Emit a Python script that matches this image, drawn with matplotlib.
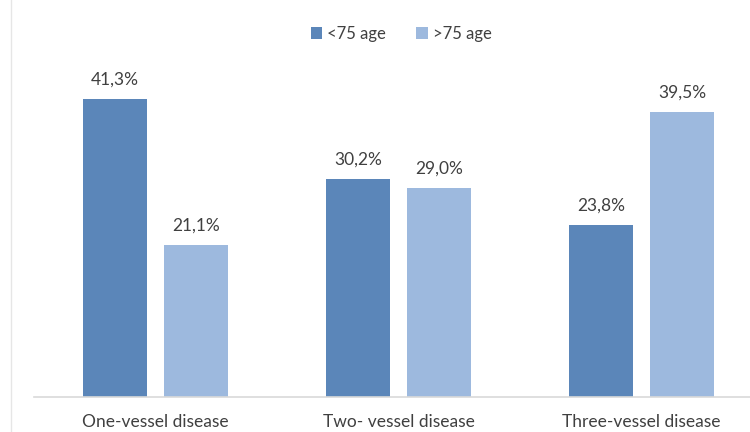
import matplotlib
matplotlib.use("Agg")
import matplotlib.pyplot as plt
from matplotlib.lines import Line2D
import numpy as np

categories = ["One-vessel disease", "Two- vessel disease", "Three-vessel disease"]
series_names = ["<75 age", ">75 age"]
under75 = [41.3, 30.2, 23.8]
over75 = [21.1, 29.0, 39.5]
colors = ["#5b86b9", "#9db9de"]

plt.rcParams['font.family'] = ['Lato', 'DejaVu Sans']
txt = "#404040"
fs = 12.5

fig = plt.figure(figsize=(7.5, 4.32), dpi=100)
ax = fig.add_axes([34/750, 35/432, 729/750, 330/432])
x = np.arange(len(categories))
w = 0.263
off = 0.1667
b1 = ax.bar(x - off, under75, w, color=colors[0], label=series_names[0])
b2 = ax.bar(x + off, over75, w, color=colors[1], label=series_names[1])
for bars, vals in ((b1, under75), (b2, over75)):
    for r, v in zip(bars, vals):
        ax.annotate(f"{v:.1f}%".replace(".", ","), (r.get_x() + r.get_width()/2, v),
                    xytext=(0, 8), textcoords="offset points", ha="center", va="bottom",
                    fontsize=fs, color=txt)
ax.set_xlim(-0.5, 2.5)
ax.set_ylim(0, 45.7)
ax.set_yticks([])
ax.set_xticks(x)
ax.set_xticklabels(categories, fontsize=fs, color=txt)
ax.tick_params(axis="x", length=0, pad=12)
for s in ("top", "right", "left"):
    ax.spines[s].set_visible(False)
ax.spines["bottom"].set_color("#d9d9d9")
ax.spines["bottom"].set_linewidth(1.2)
fig.legend(loc="upper center", bbox_to_anchor=(0.535, 0.975), ncol=2, frameon=False,
           fontsize=12, handlelength=0.7, handleheight=0.7, handletextpad=0.3,
           columnspacing=1.8, labelcolor=txt)
fig.add_artist(Line2D([11/750, 11/750], [0, 1], transform=fig.transFigure,
                      color="#e6e6e6", linewidth=1))
fig.savefig("out.png", dpi=100)
